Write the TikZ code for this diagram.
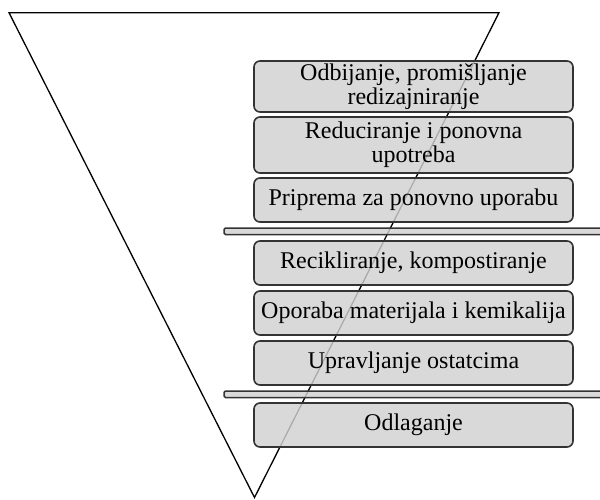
\documentclass[tikz,border=0pt]{standalone}
\usepackage{fontspec}
\setmainfont{Liberation Serif}
\definecolor{boxgray}{gray}{0.82}
\definecolor{edgegray}{gray}{0.2}
\tikzset{
  stage/.style={draw=edgegray,line width=1.6pt,rounded corners=6pt,
    fill=boxgray,fill opacity=0.82,text opacity=1,align=center,
    minimum width=319pt,minimum height=44pt,inner sep=0pt,
    font=\fontsize{24}{24}\selectfont},
  divider/.style={draw=edgegray,line width=1.5pt,rounded corners=1.5pt,
    fill=boxgray,fill opacity=0.82}
}
\begin{document}
\begin{tikzpicture}[x=1pt,y=-1pt] % une unite = un pixel
\useasboundingbox (0,0) rectangle (600,499);
% le triangle renverse
\coordinate (tl) at (9,12.7);
\coordinate (tr) at (499,12.7);
\coordinate (tip) at (254.5,497.5);
\draw[line width=1.3pt,line join=miter] (tl)--(tr)--(tip)--cycle;
% les barres de separation
\draw[divider] (224,228)rectangle(606,234.5);
\draw[divider] (224,391)rectangle(606,397.5);
% les etapes
\node[stage,minimum height=51pt] (odbijanje) at (413.5,86.5) {Odbijanje, promišljanje\\redizajniranje};
\node[stage,minimum height=56pt] (reduciranje) at (413.5,145) {Reduciranje i ponovna\\upotreba};
\node[stage] (priprema) at (413.5,200) {Priprema za ponovno uporabu};
\node[stage] (recikliranje) at (413.5,263) {Recikliranje, kompostiranje};
\node[stage] (oporaba) at (413.5,313) {Oporaba materijala i kemikalija};
\node[stage] (upravljanje) at (413.5,363) {Upravljanje ostatcima};
\node[stage] (odlaganje) at (413.5,425) {Odlaganje};
\end{tikzpicture}
\end{document}
